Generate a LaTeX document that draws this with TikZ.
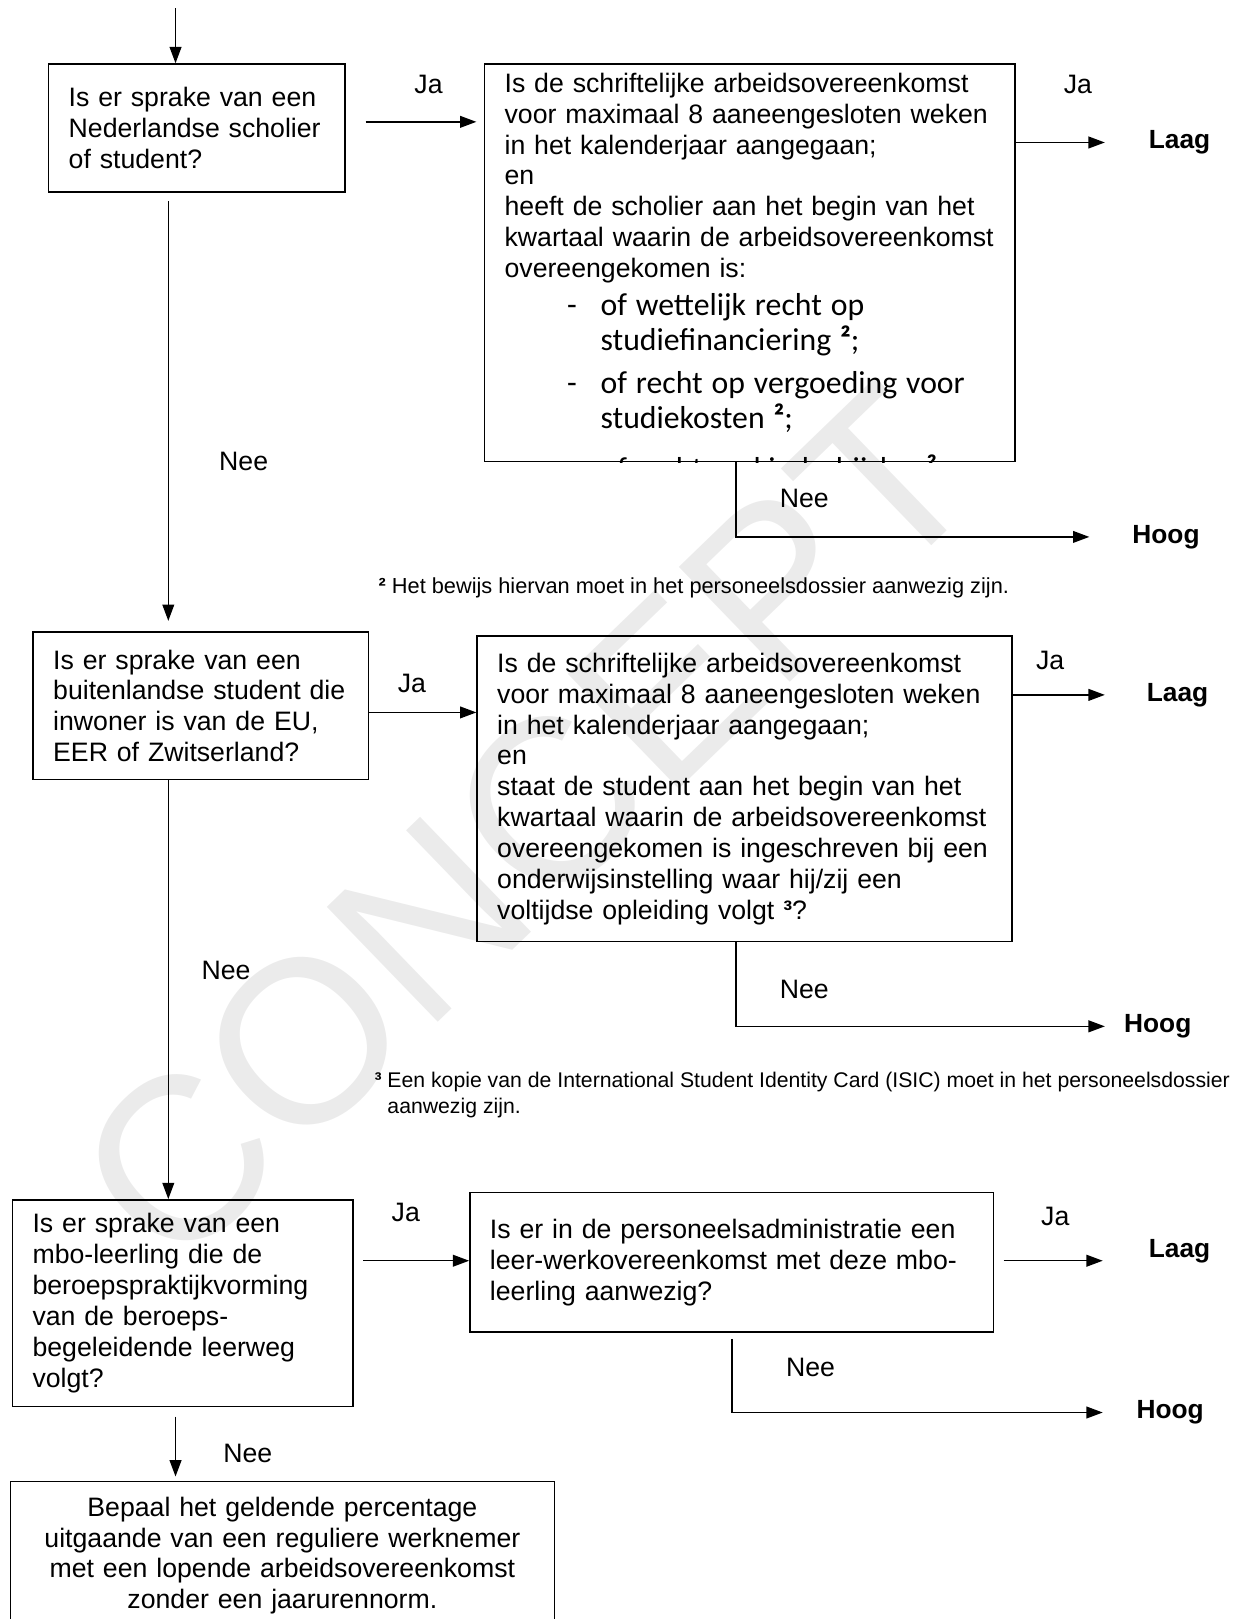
\documentclass[tikz,border=0pt]{standalone}
\usepackage{fontspec}
\setmainfont{Liberation Sans}
\newfontfamily\calibri{Carlito}
\usetikzlibrary{arrows.meta}

\tikzset{
  vraag/.style={rectangle, draw, align=left, inner xsep=0.39cm, inner ysep=0pt, font=\fontsize{14.7}{17}\selectfont},
  antwoord/.style={inner sep=0pt, font=\fontsize{14.7}{17}\selectfont},
  uitkomst/.style={anchor=west, inner sep=0pt, font=\bfseries\fontsize{14.5}{17}\selectfont},
  voetnoot/.style={anchor=base west, align=left, inner sep=0pt, font=\fontsize{12}{13.8}\selectfont}
}

\begin{document}
\begin{tikzpicture}[x=0.02cm, y=-0.02cm, thick, >={Triangle[length=9pt, width=6.5pt]}]  % 1 eenheid = 1 beeldpunt
                \useasboundingbox (0,0) rectangle (1198,1568);
                % Watermerk
                \node (watermerk) [rotate=44, text=black!8, font=\fontsize{128}{128}\selectfont] at (510,800) {CONCEPT};

                % Vragen
                \node (vraag1) [vraag, text width=4.96cm, minimum height=2.48cm] at (190.5,124) {Is er sprake van een\\Nederlandse scholier\\of student?};
                \node (vraag2) [vraag, text width=5.72cm, minimum height=2.86cm] at (194.5,683.5) {Is er sprake van een\\buitenlandse student die\\inwoner is van de EU,\\EER of Zwitserland?};
                \node (vraag3) [vraag, text width=5.82cm, minimum height=4cm] at (177,1262) {Is er sprake van een\\mbo-leerling die de\\beroepspraktijkvorming\\van de beroeps-\\begeleidende leerweg\\volgt?};
                \node (slot) [vraag, anchor=north, align=center, text width=9.76cm, inner ysep=0.3cm] at (273.5,1434) {Bepaal het geldende percentage\\uitgaande van een reguliere werknemer\\met een lopende arbeidsovereenkomst\\zonder een jaarurennorm.};

                % Controles
                \node (check1) [rectangle, draw, minimum width=10.28cm, minimum height=7.7cm] at (726,254.5) {};
                \begin{scope}
                  \clip (check1.south west) rectangle (check1.north east);
                  \node (check1tekst) [anchor=north west, inner sep=0pt, text width=9.5cm, align=left, font=\fontsize{14.7}{17}\selectfont] at (488,70) {Is de schriftelijke arbeidsovereenkomst\\voor maximaal 8 aaneengesloten weken\\in het kalenderjaar aangegaan;\\en\\heeft de scholier aan het begin van het\\kwartaal waarin de arbeidsovereenkomst\\overeengekomen is:\par
                    {\calibri\fontsize{17.5}{19.3}\selectfont\leftskip=1.86cm
                    \vspace{0.06cm}
                    \noindent\llap{-\hspace{0.46cm}}of wettelijk recht op\\studiefinanciering {\bfseries ²};\\[0.16cm]
                    \noindent\llap{-\hspace{0.46cm}}of recht op vergoeding voor\\studiekosten {\bfseries ²};\\[0.3cm]
                    \noindent\llap{-\hspace{0.46cm}}of recht op kinderbijslag {\bfseries ²};\par}};
                \end{scope}
                \node (check2) [vraag, text width=9.58cm, minimum height=5.92cm] at (721,764) {Is de schriftelijke arbeidsovereenkomst\\voor maximaal 8 aaneengesloten weken\\in het kalenderjaar aangegaan;\\en\\staat de student aan het begin van het\\kwartaal waarin de arbeidsovereenkomst\\overeengekomen is ingeschreven bij een\\onderwijsinstelling waar hij/zij een\\voltijdse opleiding volgt \textbf{³}?};
                \node (check3) [vraag, text width=9.36cm, minimum height=2.7cm] at (708.5,1222.5) {Is er in de personeelsadministratie een\\leer-werkovereenkomst met deze mbo-\\leerling aanwezig?};

                % Uitkomsten
                \node (laag1) [uitkomst] at (1112,138) {Laag};
                \node (hoog1) [uitkomst] at (1096,520) {Hoog};
                \node (laag2) [uitkomst] at (1110,673) {Laag};
                \node (hoog2) [uitkomst] at (1088,994) {Hoog};
                \node (laag3) [uitkomst] at (1112,1212) {Laag};
                \node (hoog3) [uitkomst] at (1100,1368) {Hoog};

                % Voetnoten
                \node (noot2) [voetnoot] at (366,574.5) {\textbf{²} Het bewijs hiervan moet in het personeelsdossier aanwezig zijn.};
                \node (noot3) [voetnoot, font=\fontsize{11.7}{14}\selectfont] at (362,1078) {\textbf{³} Een kopie van de International Student Identity Card (ISIC) moet in het personeelsdossier\\\phantom{\textbf{³} }aanwezig zijn.};

                % Ja / Nee
                \node (ja1) [antwoord] at (415,82) {Ja};
                \node (ja2) [antwoord] at (1044,82) {Ja};
                \node (nee1) [antwoord] at (236,447) {Nee};
                \node (nee2) [antwoord] at (779,483) {Nee};
                \node (ja3) [antwoord] at (399,662) {Ja};
                \node (ja4) [antwoord] at (1017,640) {Ja};
                \node (nee3) [antwoord] at (219,940) {Nee};
                \node (nee4) [antwoord] at (779,958) {Nee};
                \node (ja5) [antwoord] at (393,1174) {Ja};
                \node (ja6) [antwoord] at (1022,1178) {Ja};
                \node (nee5) [antwoord] at (785,1324) {Nee};
                \node (nee6) [antwoord] at (240,1408) {Nee};

                % Pijlen
                \coordinate (begin) at (170,8);
                \coordinate (pijl1) at (354,118);
                \coordinate (pijl2) at (163,195);
                \coordinate (pijl3) at (357,690);
                \coordinate (pijl5) at (352,1221);
                \coordinate (pijl6) at (972,1221);
                \coordinate (pijl7) at (170,1372);
                \coordinate (knik1) at (713,520);
                \coordinate (knik2) at (713,994);
                \coordinate (knik3) at (709,1368);

                \draw[->] (begin) -- (begin |- vraag1.north);
                \draw[->, shorten >=0.14cm] (pijl1) -- (pijl1 -| check1.west);
                \draw[->, shorten >=0.84cm] (laag1.west -| check1.east) -- (laag1.west);
                \draw[->, shorten >=0.82cm] (knik1 |- check1.south) -- (knik1) -- (hoog1.west);
                \draw[->, shorten >=0.2cm] (pijl2) -- (pijl2 |- vraag2.north);

                \draw[->] (pijl3) -- (pijl3 -| check2.west);
                \draw[->, shorten >=0.8cm] (laag2.west -| check2.east) -- (laag2.west);
                \draw[->, shorten >=0.36cm] (knik2 |- check2.south) -- (knik2) -- (hoog2.west);
                \draw[->] (pijl2 |- vraag2.south) -- (pijl2 |- vraag3.north);

                \draw[->] (pijl5) -- (pijl5 -| check3.west);
                \draw[->, shorten >=0.88cm] (pijl6) -- (pijl6 -| laag3.west);
                \draw[->, shorten <=0.12cm, shorten >=0.64cm] (knik3 |- check3.south) -- (knik3) -- (hoog3.west);
                \draw[->, shorten >=0.08cm] (pijl7) -- (pijl7 |- slot.north);
\end{tikzpicture}
\end{document}
